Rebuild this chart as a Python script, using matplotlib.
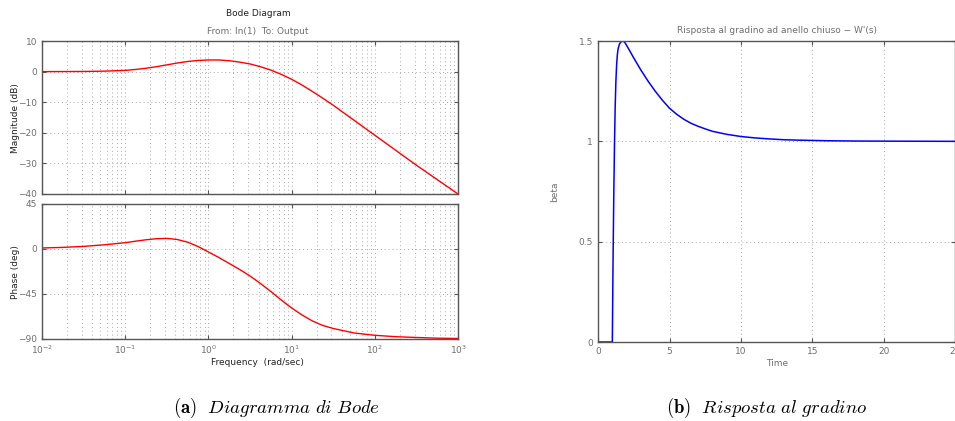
import matplotlib
matplotlib.use("Agg")
import matplotlib.pyplot as plt

plt.rcParams['mathtext.fontset'] = 'cm'

# Bode data (log10 of frequency in rad/sec)
log_w = [-2, -1.75, -1.5, -1.25, -1, -0.875, -0.75, -0.625, -0.5, -0.375, -0.25, -0.125,
         0, 0.125, 0.25, 0.375, 0.5, 0.625, 0.75, 0.875, 1, 1.125, 1.25, 1.375, 1.5,
         1.75, 2, 2.25, 2.5, 2.75, 3]
mag_db = [0.0, 0.02, 0.05, 0.15, 0.4, 0.7, 1.1, 1.6, 2.2, 2.8, 3.3, 3.65,
          3.8, 3.8, 3.55, 3.1, 2.5, 1.6, 0.5, -0.9, -2.5, -4.4, -6.5, -8.7, -11.0,
          -15.9, -20.8, -25.7, -30.6, -35.3, -40.0]
phase_deg = [1.0, 1.6, 2.6, 4.2, 6.3, 7.8, 9.2, 10.3, 10.6, 9.5, 6.8, 2.5,
             -3.0, -8.5, -14.5, -20.5, -27.0, -34.5, -42.5, -51.0, -59.0, -66.0, -72.0, -76.5, -79.5,
             -84.0, -86.3, -87.7, -88.5, -89.2, -89.5]

# closed loop step response
t = [0, 1.0, 1.05, 1.1, 1.15, 1.2, 1.25, 1.3, 1.35, 1.4, 1.5, 1.6, 1.7, 1.8, 1.9, 2.0,
     2.25, 2.5, 2.75, 3, 3.5, 4, 4.5, 5, 5.5, 6, 6.5, 7, 7.5, 8, 9, 10, 11, 12, 13, 14,
     16, 18, 20, 25]
beta = [0, 0, 0.4, 0.72, 0.98, 1.17, 1.3, 1.38, 1.43, 1.46, 1.485, 1.495, 1.5, 1.498, 1.49, 1.478,
        1.447, 1.415, 1.385, 1.355, 1.30, 1.25, 1.205, 1.165, 1.135, 1.11, 1.09, 1.075, 1.062, 1.05,
        1.035, 1.024, 1.017, 1.012, 1.008, 1.006, 1.003, 1.0015, 1.001, 1.0]

mag_ticks = [-40, -30, -20, -10, 0, 10]
phase_ticks = [-90, -45, 0, 45]
time_ticks = [0, 5, 10, 15, 20, 25]
beta_ticks = [0, 0.5, 1, 1.5]

TICK_COLOR = '#6e6e6e'
SPINE_COLOR = '#555555'
GRID = dict(color='#a8a8a8', linestyle=(0, (1, 3)), linewidth=0.7)


def style_axes(ax):
    for sp in ax.spines.values():
        sp.set_color(SPINE_COLOR)
        sp.set_linewidth(1.0)
    ax.tick_params(which='both', direction='in', colors=SPINE_COLOR, labelcolor=TICK_COLOR,
                   labelsize=6.5, top=True, right=True, length=3)
    ax.tick_params(which='minor', length=0)


fig = plt.figure(figsize=(9.55, 4.21), dpi=100)

w = [10 ** v for v in log_w]

ax_mag = fig.add_axes([0.044, 0.5392, 0.4356, 0.3634])
ax_mag.semilogx(w, mag_db, color='red', linewidth=1.0)
ax_mag.set_xlim(1e-2, 1e3)
ax_mag.set_ylim(-40, 10)
ax_mag.set_yticks(mag_ticks)
ax_mag.set_yticklabels([str(v).replace('-', '\u2212') for v in mag_ticks])
ax_mag.grid(True, which='both', axis='x', **GRID)
ax_mag.grid(True, which='major', axis='y', **GRID)
ax_mag.tick_params(labelbottom=False)
style_axes(ax_mag)

ax_ph = fig.add_axes([0.044, 0.1948, 0.4356, 0.3207])
ax_ph.semilogx(w, phase_deg, color='red', linewidth=1.0)
ax_ph.set_xlim(1e-2, 1e3)
ax_ph.set_ylim(-90, 45)
ax_ph.set_yticks(phase_ticks)
ax_ph.set_yticklabels([str(v).replace('-', '\u2212') for v in phase_ticks])
ax_ph.grid(True, which='both', axis='x', **GRID)
ax_ph.grid(True, which='major', axis='y', **GRID)
style_axes(ax_ph)

fig.text(0.270, 0.969, 'Bode Diagram', ha='center', va='center', fontsize=6.5, color='#222222')
fig.text(0.270, 0.924, 'From: In(1)  To: Output', ha='center', va='center', fontsize=6.5,
         color=TICK_COLOR)
fig.text(0.016, 0.720, 'Magnitude (dB)', rotation=90, ha='center', va='center', fontsize=6.5,
         color='#222222')
fig.text(0.016, 0.354, 'Phase (deg)', rotation=90, ha='center', va='center', fontsize=6.5,
         color='#222222')
fig.text(0.270, 0.138, 'Frequency  (rad/sec)', ha='center', va='center', fontsize=6.5,
         color='#222222')

ax_st = fig.add_axes([0.6262, 0.1876, 0.3743, 0.715])
ax_st.plot(t, beta, color='blue', linewidth=1.1)
ax_st.set_xlim(0, 25)
ax_st.set_ylim(0, 1.5)
ax_st.set_xticks(time_ticks)
ax_st.set_yticks(beta_ticks)
ax_st.set_yticklabels(['0', '0.5', '1', '1.5'])
ax_st.grid(True, **GRID)
style_axes(ax_st)
ax_st.set_title("Risposta al gradino ad anello chiuso \u2212 W'(s)", fontsize=6.5,
                color=TICK_COLOR, pad=6)
ax_st.set_xlabel('Time', fontsize=6.5, color=TICK_COLOR, labelpad=2)
ax_st.set_ylabel('beta', fontsize=6.5, color=TICK_COLOR, labelpad=14)

fig.text(0.289, 0.031, r'$\mathbf{(a)}\ \ Diagramma\ di\ Bode$', ha='center', va='center',
         fontsize=13.5)
fig.text(0.803, 0.031, r'$\mathbf{(b)}\ \ Risposta\ al\ gradino$', ha='center', va='center',
         fontsize=13.5)

fig.savefig('out.png', dpi=100)
